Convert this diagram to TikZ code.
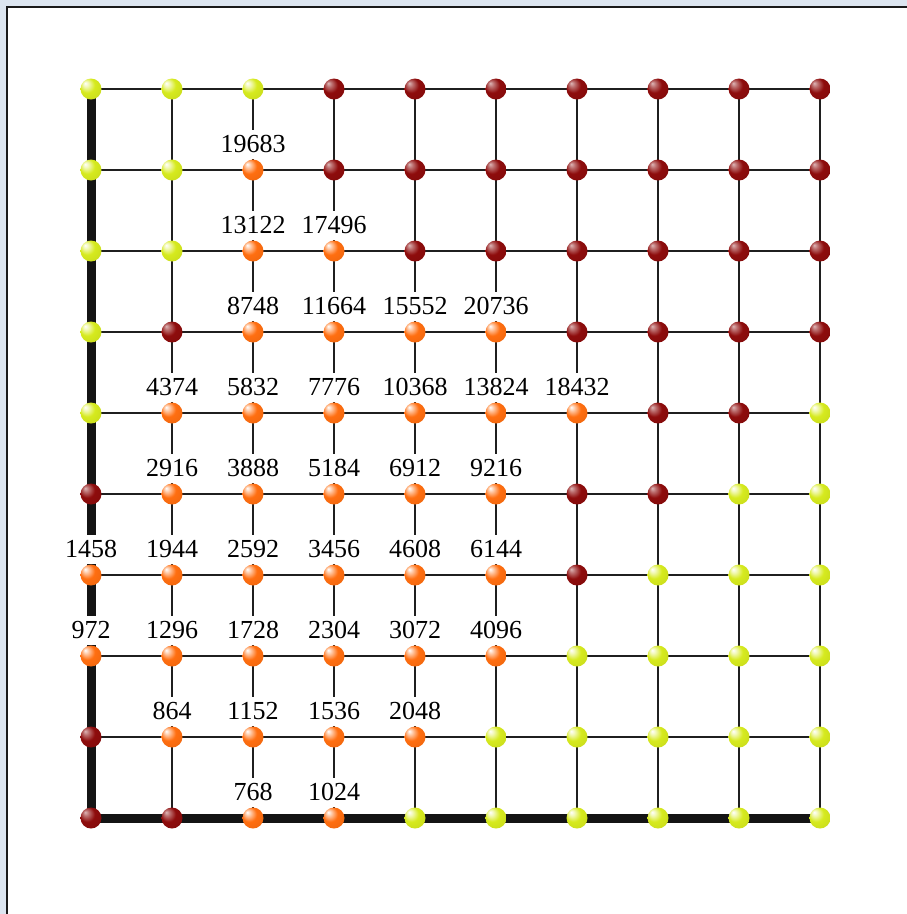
\documentclass[tikz,border=0pt]{standalone}
\usepackage{fontspec}
\setmainfont{Liberation Serif}
\usetikzlibrary{positioning}

\definecolor{bY}{HTML}{D6EA1E}
\definecolor{bO}{HTML}{FF6E10}
\definecolor{bD}{HTML}{8E0C0C}
\definecolor{framebg}{HTML}{DCE5F0}

% glossy balls, light from the upper left
\pgfdeclareradialshading{ballY}{\pgfpoint{-14bp}{14bp}}{color(0bp)=(white); color(7bp)=(bY!35!white);
  color(18bp)=(bY); color(40bp)=(bY!92!black); color(50bp)=(bY!78!black)}
\pgfdeclareradialshading{ballO}{\pgfpoint{-14bp}{14bp}}{color(0bp)=(white); color(7bp)=(bO!40!white);
  color(18bp)=(bO); color(40bp)=(bO!92!black); color(50bp)=(bO!75!black)}
\pgfdeclareradialshading{ballD}{\pgfpoint{-14bp}{14bp}}{color(0bp)=(bD!30!white); color(7bp)=(bD!60!white);
  color(18bp)=(bD); color(40bp)=(bD!90!black); color(50bp)=(bD!70!black)}

\tikzset{
  wire/.style={line width=2.2pt, black!88},
  rail/.style={line width=9pt, black!92},
  ball/.style={circle, minimum size=21pt, inner sep=0pt, shading=ball#1},
  num/.style={fill=white, inner xsep=1pt, inner ysep=6pt, font=\fontsize{26}{28}\selectfont}
}

\begin{document}
\begin{tikzpicture}[x=1pt,y=-1pt]
  \useasboundingbox (0,0) rectangle (907,914);

  % window frame
  \fill[framebg] (0,0) rectangle (907,914);
  \fill[white] (7,7) rectangle (907,914);
  \draw[line width=2pt, black!90] (7,914) -- (7,7) -- (907,7);

  % lattice points
  \foreach \r in {0,...,9}
    \foreach \c in {0,...,9}
      \coordinate (p-\r-\c) at ({91+81*\c},{89+81*\r});

  % lines
  \foreach \r in {0,...,8}
    \draw[wire] (p-\r-0) -- (p-\r-9);
  \foreach \c in {1,...,9}
    \draw[wire] (p-0-\c) -- (p-9-\c);
  \draw[rail] (p-0-0) -- (p-9-0) -- (p-9-9);

  % balls, row by row from the top
  \foreach \row [count=\r from 0] in {
      {Y,Y,Y,D,D,D,D,D,D,D},
      {Y,Y,O,D,D,D,D,D,D,D},
      {Y,Y,O,O,D,D,D,D,D,D},
      {Y,D,O,O,O,O,D,D,D,D},
      {Y,O,O,O,O,O,O,D,D,Y},
      {D,O,O,O,O,O,D,D,Y,Y},
      {O,O,O,O,O,O,D,Y,Y,Y},
      {O,O,O,O,O,O,Y,Y,Y,Y},
      {D,O,O,O,O,Y,Y,Y,Y,Y},
      {D,D,O,O,Y,Y,Y,Y,Y,Y}}
    \foreach \k [count=\c from 0] in \row
      \node[ball=\k] (b-\r-\c) at (p-\r-\c) {};

  % numbers above the orange balls
  \foreach \r/\c/\v in {
      1/2/19683,
      2/2/13122, 2/3/17496,
      3/2/8748, 3/3/11664, 3/4/15552, 3/5/20736,
      4/1/4374, 4/2/5832, 4/3/7776, 4/4/10368, 4/5/13824, 4/6/18432,
      5/1/2916, 5/2/3888, 5/3/5184, 5/4/6912, 5/5/9216,
      6/0/1458, 6/1/1944, 6/2/2592, 6/3/3456, 6/4/4608, 6/5/6144,
      7/0/972, 7/1/1296, 7/2/1728, 7/3/2304, 7/4/3072, 7/5/4096,
      8/1/864, 8/2/1152, 8/3/1536, 8/4/2048,
      9/2/768, 9/3/1024}
    \node[num, above=0pt of b-\r-\c] (l-\r-\c) {\v};
\end{tikzpicture}
\end{document}
